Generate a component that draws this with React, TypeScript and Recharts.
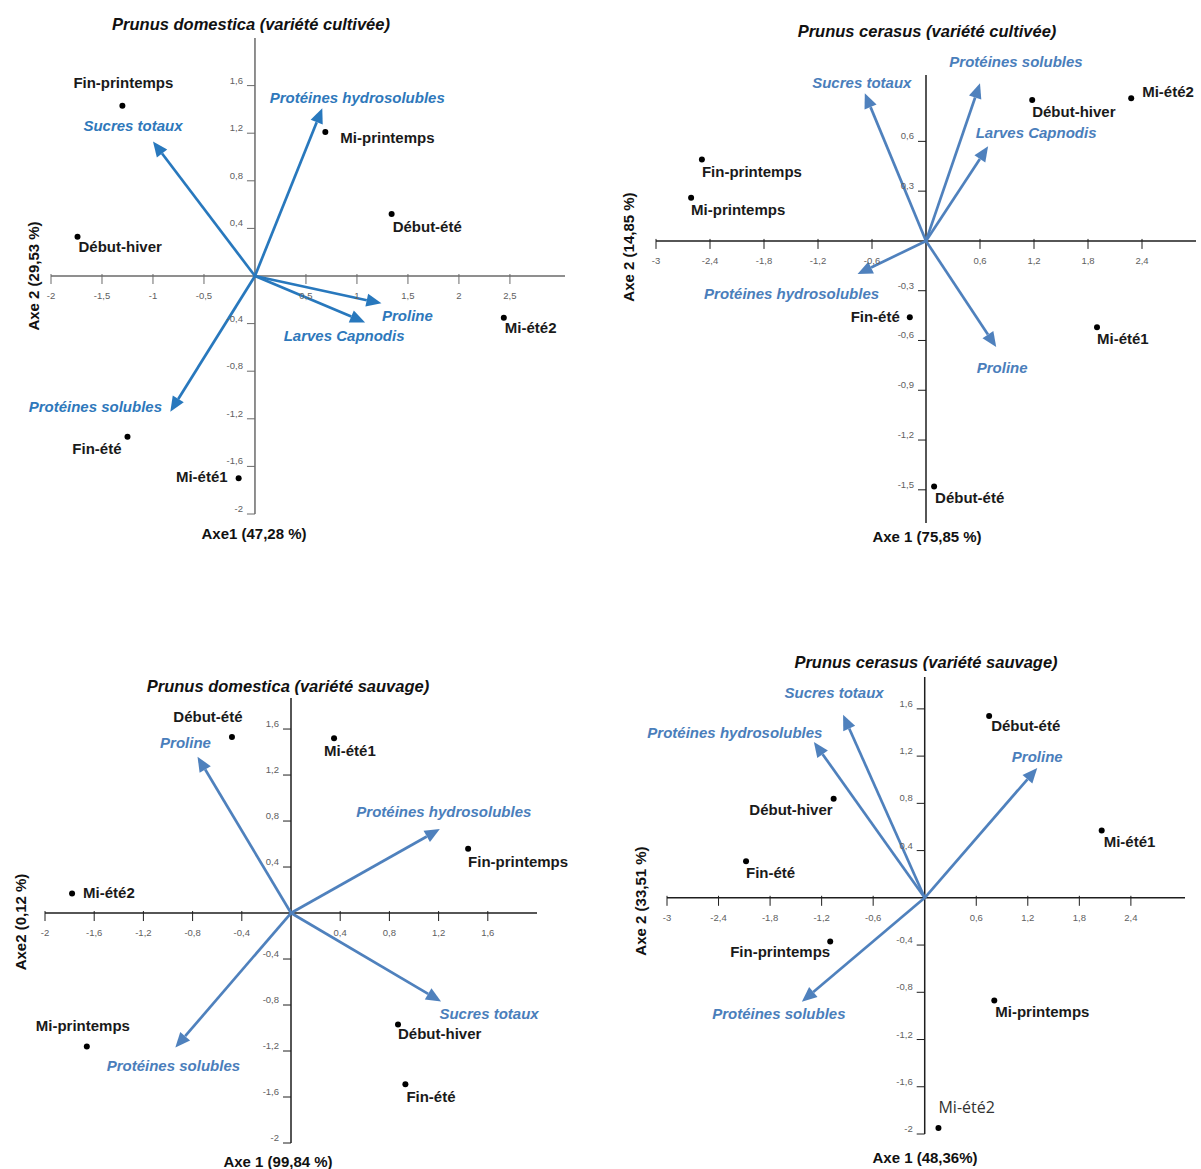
import React from "react";
import { ScatterChart, Scatter, XAxis, YAxis, ReferenceLine, ReferenceDot } from "recharts";

const W = 1201;
const H = 1169;
const FONT = '"Liberation Sans Narrow", "Liberation Sans", Arial, sans-serif';

// ---- Prunus domestica (variété cultivée)
const seasonsDC = ["Fin-printemps", "Mi-printemps", "Début-été", "Début-hiver", "Mi-été2", "Fin-été", "Mi-été1"];
const axe1DC = [-1.3, 0.69, 1.34, -1.74, 2.44, -1.25, -0.16];
const axe2DC = [1.43, 1.21, 0.52, 0.33, -0.35, -1.35, -1.7];
const varsDC = ["Sucres totaux", "Protéines hydrosolubles", "Proline", "Larves Capnodis", "Protéines solubles"];
const varAxe1DC = [-1.0, 0.66, 1.24, 1.08, -0.83];
const varAxe2DC = [1.13, 1.41, -0.23, -0.39, -1.14];
const xTicksDC = [-2, -1.5, -1, -0.5, 0.5, 1, 1.5, 2, 2.5];
const yTicksDC = [1.6, 1.2, 0.8, 0.4, -0.4, -0.8, -1.2, -1.6, -2];

// ---- Prunus cerasus (variété cultivée)
const seasonsCC = ["Fin-printemps", "Mi-printemps", "Début-hiver", "Mi-été2", "Fin-été", "Mi-été1", "Début-été"];
const axe1CC = [-2.49, -2.61, 1.18, 2.28, -0.18, 1.9, 0.09];
const axe2CC = [0.49, 0.26, 0.85, 0.86, -0.46, -0.52, -1.48];
const varsCC = ["Sucres totaux", "Protéines solubles", "Larves Capnodis", "Protéines hydrosolubles", "Proline"];
const varAxe1CC = [-0.68, 0.6, 0.69, -0.76, 0.78];
const varAxe2CC = [0.89, 0.95, 0.57, -0.2, -0.64];
const xTicksCC = [-3, -2.4, -1.8, -1.2, -0.6, 0.6, 1.2, 1.8, 2.4];
const yTicksCC = [0.6, 0.3, -0.3, -0.6, -0.9, -1.2, -1.5];

// ---- Prunus domestica (variété sauvage)
const seasonsDS = ["Début-été", "Mi-été1", "Fin-printemps", "Mi-été2", "Mi-printemps", "Début-hiver", "Fin-été"];
const axe1DS = [-0.48, 0.35, 1.44, -1.78, -1.66, 0.87, 0.93];
const axe2DS = [1.53, 1.52, 0.56, 0.17, -1.16, -0.97, -1.49];
const varsDS = ["Proline", "Protéines hydrosolubles", "Sucres totaux", "Protéines solubles"];
const varAxe1DS = [-0.76, 1.21, 1.22, -0.94];
const varAxe2DS = [1.36, 0.73, -0.77, -1.17];
const xTicksDS = [-2, -1.6, -1.2, -0.8, -0.4, 0.4, 0.8, 1.2, 1.6];
const yTicksDS = [1.6, 1.2, 0.8, 0.4, -0.4, -0.8, -1.2, -1.6, -2];

// ---- Prunus cerasus (variété sauvage)
const seasonsCS = ["Début-été", "Début-hiver", "Mi-été1", "Fin-été", "Fin-printemps", "Mi-printemps", "Mi-été2"];
const axe1CS = [0.75, -1.06, 2.06, -2.08, -1.1, 0.81, 0.16];
const axe2CS = [1.54, 0.84, 0.57, 0.31, -0.37, -0.87, -1.95];
const varsCS = ["Sucres totaux", "Protéines hydrosolubles", "Proline", "Protéines solubles"];
const varAxe1CS = [-0.95, -1.29, 1.31, -1.43];
const varAxe2CS = [1.55, 1.32, 1.1, -0.88];
const xTicksCS = [-3, -2.4, -1.8, -1.2, -0.6, 0.6, 1.2, 1.8, 2.4];
const yTicksCS = [1.6, 1.2, 0.8, 0.4, -0.4, -0.8, -1.2, -1.6, -2];

type Off = [number, number, "start" | "middle" | "end"];

type Panel = {
  title: string;
  xTitle: string;
  yTitle: string;
  titlePos: [number, number];
  xTitlePos: [number, number];
  yTitlePos: [number, number];
  seasons: string[];
  axe1: number[];
  axe2: number[];
  vars: string[];
  vx: number[];
  vy: number[];
  xTicks: number[];
  yTicks: number[];
  xDomain: [number, number];
  yDomain: [number, number];
  box: { left: number; right: number; top: number; bottom: number };
  axisColor: string;
  arrowColor: string;
  blue: string;
  pointLabels: Record<string, Off>;
  varLabels: Record<string, Off>;
  plainLabel?: string; // one label typed in a different (regular) font in the source
};

const panels: Panel[] = [
  {
    title: "Prunus domestica (variété cultivée)",
    xTitle: "Axe1 (47,28 %)",
    yTitle: "Axe 2 (29,53 %)",
    titlePos: [251, 24],
    xTitlePos: [254, 533],
    yTitlePos: [33, 276],
    seasons: seasonsDC, axe1: axe1DC, axe2: axe2DC,
    vars: varsDC, vx: varAxe1DC, vy: varAxe2DC,
    xTicks: xTicksDC, yTicks: yTicksDC,
    xDomain: [-2, 3.04], yDomain: [-2, 2],
    box: { left: 51, right: 565, top: 38, bottom: 514 },
    axisColor: "#6a6a6a", arrowColor: "#2878bd", blue: "#2e78bb",
    pointLabels: {
      "Fin-printemps": [1, -23, "middle"],
      "Mi-printemps": [15, 5, "start"],
      "Début-été": [1, 12, "start"],
      "Début-hiver": [1, 10, "start"],
      "Mi-été2": [1, 10, "start"],
      "Fin-été": [-6, 12, "end"],
      "Mi-été1": [-11, -2, "end"],
    },
    varLabels: {
      "Sucres totaux": [-20, -16, "middle"],
      "Protéines hydrosolubles": [35, -11, "middle"],
      Proline: [26, 12, "middle"],
      "Larves Capnodis": [-21, 13, "middle"],
      "Protéines solubles": [-75, -5, "middle"],
    },
  },
  {
    title: "Prunus cerasus (variété cultivée)",
    xTitle: "Axe 1 (75,85 %)",
    yTitle: "Axe 2 (14,85 %)",
    titlePos: [927, 31],
    xTitlePos: [927, 536],
    yTitlePos: [628, 247],
    seasons: seasonsCC, axe1: axe1CC, axe2: axe2CC,
    vars: varsCC, vx: varAxe1CC, vy: varAxe2CC,
    xTicks: xTicksCC, yTicks: yTicksCC,
    xDomain: [-3, 3], yDomain: [-1.7, 1.0],
    box: { left: 656, right: 1196, top: 75, bottom: 523 },
    axisColor: "#1e1e1e", arrowColor: "#4f81bd", blue: "#4a7ebb",
    pointLabels: {
      "Fin-printemps": [0, 12, "start"],
      "Mi-printemps": [0, 12, "start"],
      "Début-hiver": [0, 12, "start"],
      "Mi-été2": [11, -7, "start"],
      "Fin-été": [-10, -1, "end"],
      "Mi-été1": [0, 11, "start"],
      "Début-été": [1, 11, "start"],
    },
    varLabels: {
      "Sucres totaux": [-3, -11, "middle"],
      "Protéines solubles": [36, -22, "middle"],
      "Larves Capnodis": [48, -14, "middle"],
      "Protéines hydrosolubles": [-66, 19, "middle"],
      Proline: [6, 20, "middle"],
    },
  },
  {
    title: "Prunus domestica (variété sauvage)",
    xTitle: "Axe 1 (99,84 %)",
    yTitle: "Axe2 (0,12 %)",
    titlePos: [288, 686],
    xTitlePos: [278, 1161],
    yTitlePos: [20, 922],
    seasons: seasonsDS, axe1: axe1DS, axe2: axe2DS,
    vars: varsDS, vx: varAxe1DS, vy: varAxe2DS,
    xTicks: xTicksDS, yTicks: yTicksDS,
    xDomain: [-2, 2], yDomain: [-2, 1.87],
    box: { left: 45, right: 537, top: 698, bottom: 1143 },
    axisColor: "#1e1e1e", arrowColor: "#4f81bd", blue: "#4a7ebb",
    pointLabels: {
      "Début-été": [-24, -21, "middle"],
      "Mi-été1": [-10, 12, "start"],
      "Fin-printemps": [0, 13, "start"],
      "Mi-été2": [11, -1, "start"],
      "Mi-printemps": [-4, -21, "middle"],
      "Début-hiver": [0, 9, "start"],
      "Fin-été": [1, 12, "start"],
    },
    varLabels: {
      Proline: [-12, -14, "middle"],
      "Protéines hydrosolubles": [4, -18, "middle"],
      "Sucres totaux": [48, 12, "middle"],
      "Protéines solubles": [-2, 18, "middle"],
    },
  },
  {
    title: "Prunus cerasus (variété sauvage)",
    xTitle: "Axe 1 (48,36%)",
    yTitle: "Axe 2 (33,51 %)",
    titlePos: [926, 662],
    xTitlePos: [925, 1157],
    yTitlePos: [640, 901],
    seasons: seasonsCS, axe1: axe1CS, axe2: axe2CS,
    vars: varsCS, vx: varAxe1CS, vy: varAxe2CS,
    xTicks: xTicksCS, yTicks: yTicksCS,
    xDomain: [-3, 3.03], yDomain: [-2, 1.87],
    box: { left: 667, right: 1185, top: 677, bottom: 1134 },
    axisColor: "#1e1e1e", arrowColor: "#4f81bd", blue: "#4a7ebb",
    pointLabels: {
      "Début-été": [2, 10, "start"],
      "Début-hiver": [-1, 11, "end"],
      "Mi-été1": [2, 11, "start"],
      "Fin-été": [0, 11, "start"],
      "Fin-printemps": [0, 10, "end"],
      "Mi-printemps": [1, 11, "start"],
      "Mi-été2": [0, -21, "start"],
    },
    varLabels: {
      "Sucres totaux": [-9, -22, "middle"],
      "Protéines hydrosolubles": [-79, -9, "middle"],
      Proline: [0, -11, "middle"],
      "Protéines solubles": [-23, 12, "middle"],
    },
    plainLabel: "Mi-été2",
  },
];

const fmt = (t: number) => String(t).replace(".", ",");

function Arrow(props: any, name: string, p: Panel) {
  const { x1, y1, x2, y2 } = props;
  if (x1 == null || x2 == null) return null;
  const ang = Math.atan2(y2 - y1, x2 - x1);
  const len = 15;
  const half = 6.5;
  const bx = x2 - len * Math.cos(ang);
  const by = y2 - len * Math.sin(ang);
  const nx = -Math.sin(ang);
  const ny = Math.cos(ang);
  const o = p.varLabels[name] || [0, 0, "middle"];
  return (
    <g>
      <line x1={x1} y1={y1} x2={bx} y2={by} stroke={p.arrowColor} strokeWidth={2.7} />
      <polygon
        points={`${x2},${y2} ${bx + nx * half},${by + ny * half} ${bx - nx * half},${by - ny * half}`}
        fill={p.arrowColor}
      />
      <text
        x={x2 + o[0]}
        y={y2 + o[1]}
        textAnchor={o[2]}
        dominantBaseline="central"
        fontFamily={FONT}
        fontStyle="italic"
        fontWeight={600}
        fontSize={15}
        fill={p.blue}
      >
        {name}
      </text>
    </g>
  );
}

function Point(props: any, p: Panel) {
  const { cx, cy, payload } = props;
  const o = p.pointLabels[payload.name] || [0, 10, "start"];
  const plain = p.plainLabel === payload.name;
  return (
    <g>
      <circle cx={cx} cy={cy} r={3} fill="#000" />
      <text
        x={cx + o[0]}
        y={cy + o[1]}
        textAnchor={o[2]}
        dominantBaseline="central"
        fontFamily={plain ? '"Open Sans", "Noto Sans", sans-serif' : FONT}
        fontWeight={plain ? 400 : 600}
        fontSize={plain ? 16 : 15}
        fill={plain ? "#333" : "#1a1a1a"}
      >
        {payload.name}
      </text>
    </g>
  );
}

function Biplot({ p }: { p: Panel }) {
  const data = p.seasons.map((s, i) => ({ name: s, x: p.axe1[i], y: p.axe2[i] }));
  const margin = { left: p.box.left, top: p.box.top, right: W - p.box.right, bottom: H - p.box.bottom };
  return (
    <div style={{ position: "absolute", left: 0, top: 0 }}>
      <ScatterChart width={W} height={H} margin={margin}>
        <XAxis type="number" dataKey="x" domain={p.xDomain} hide />
        <YAxis type="number" dataKey="y" domain={p.yDomain} hide />
        <ReferenceLine x={0} stroke={p.axisColor} strokeWidth={1.5} />
        <ReferenceLine y={0} stroke={p.axisColor} strokeWidth={1.5} />
        {p.xTicks.map((t) => (
          <ReferenceDot
            key={"x" + t}
            x={t}
            y={0}
            shape={(d: any) => (
              <g>
                <line x1={d.cx} y1={d.cy - 2} x2={d.cx} y2={d.cy + 8} stroke={p.axisColor} strokeWidth={1} />
                <text x={d.cx} y={d.cy + 23} textAnchor="middle" fontFamily={FONT} fontSize={9.5} fill="#606060">
                  {fmt(t)}
                </text>
              </g>
            )}
          />
        ))}
        {p.yTicks.map((t) => (
          <ReferenceDot
            key={"y" + t}
            x={0}
            y={t}
            shape={(d: any) => (
              <g>
                <line x1={d.cx - 8} y1={d.cy} x2={d.cx} y2={d.cy} stroke={p.axisColor} strokeWidth={1} />
                <text x={d.cx - 12} y={d.cy - 2} textAnchor="end" fontFamily={FONT} fontSize={9.5} fill="#606060">
                  {fmt(t)}
                </text>
              </g>
            )}
          />
        ))}
        {p.vars.map((v, i) => (
          <ReferenceLine
            key={v}
            segment={[{ x: 0, y: 0 }, { x: p.vx[i], y: p.vy[i] }]}
            shape={(s: any) => Arrow(s, v, p)}
          />
        ))}
        <Scatter data={data} isAnimationActive={false} shape={(s: any) => Point(s, p)} />
      </ScatterChart>
    </div>
  );
}

export default function App() {
  return (
    <div style={{ position: "absolute", left: 0, top: 0, width: W, height: H, background: "#fff" }}>
      {panels.map((p) => (
        <Biplot key={p.title} p={p} />
      ))}
      <svg width={W} height={H} style={{ position: "absolute", left: 0, top: 0, pointerEvents: "none" }}>
        {panels.map((p) => (
          <g key={p.title} fontFamily={FONT} fill="#111">
            <text x={p.titlePos[0]} y={p.titlePos[1]} textAnchor="middle" dominantBaseline="central" fontSize={16.5} fontWeight={700} fontStyle="italic">
              {p.title}
            </text>
            <text x={p.xTitlePos[0]} y={p.xTitlePos[1]} textAnchor="middle" dominantBaseline="central" fontSize={15} fontWeight={700}>
              {p.xTitle}
            </text>
            <text
              x={p.yTitlePos[0]}
              y={p.yTitlePos[1]}
              textAnchor="middle"
              dominantBaseline="central"
              fontSize={15}
              fontWeight={700}
              transform={`rotate(-90 ${p.yTitlePos[0]} ${p.yTitlePos[1]})`}
            >
              {p.yTitle}
            </text>
          </g>
        ))}
      </svg>
    </div>
  );
}
